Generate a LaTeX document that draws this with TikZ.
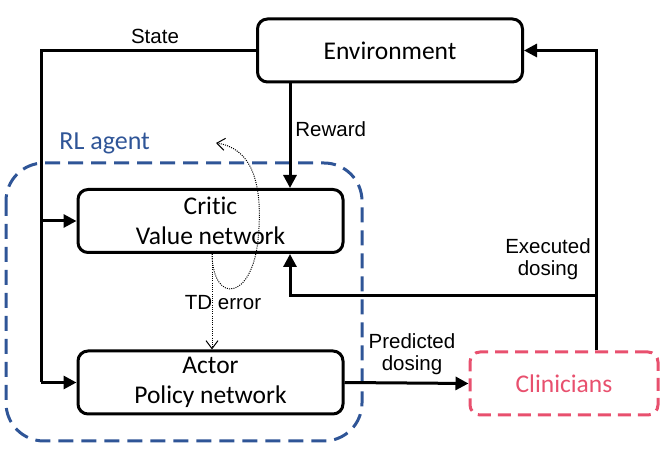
\documentclass[tikz,border=0pt]{standalone}
\usepackage{fontspec}
\setmainfont[Ligatures={NoCommon}]{Carlito}
\newfontfamily\arialf{Liberation Sans}
\usetikzlibrary{arrows.meta}
\definecolor{agentblue}{RGB}{47,85,151}
\definecolor{clinpink}{RGB}{232,80,110}
\tikzset{
  box/.style={draw, line width=1.5pt, rounded corners=5pt, minimum width=132.5pt, minimum height=31.5pt, align=center, font=\fontsize{12.75pt}{15pt}\selectfont, inner sep=0pt},
  conn/.style={line width=1.5pt},
  arr/.style={conn, -{Triangle[length=6.5pt,width=6.5pt]}},
  lbl/.style={font=\arialf\fontsize{10.25pt}{11.2pt}\selectfont, align=center, inner sep=0pt},
  dotarr/.style={line width=0.5pt, dash pattern=on 0.5pt off 0.6pt, -{Straight Barb[length=4pt,width=6pt,line width=0.5pt]}}
}
\begin{document}
\begin{tikzpicture}[x=0.5pt,y=-0.5pt]
\useasboundingbox (0,0) rectangle (665,459);
% agent frame
\draw[agentblue, line width=1.5pt, dash pattern=on 7.5pt off 4pt, rounded corners=19pt] (6,163) rectangle (362,441);
\node[font=\fontsize{13pt}{15pt}\selectfont, text=agentblue, anchor=west, inner sep=0pt] (agentlbl) at (59,143) {RL agent};
% nodes
\node[box] (env) at (390,50.5) {Environment};
\node[box] (critic) at (210.5,221) {Critic\\Value network};
\node[box] (actor) at (210.5,382.5) {Actor\\Policy network};
\node[box, draw=clinpink, text=clinpink, minimum width=94pt, dash pattern=on 6.5pt off 3.5pt] (clin) at (564,383.5) {Clinicians};
% coordinates
\coordinate (lx) at (41,0);
\coordinate (rx) at (290,0);
\coordinate (ex) at (596,0);
\coordinate (ey) at (0,296);
% state
\draw[conn] (env.west) -- (env.west -| lx) -- (actor.west -| lx);
\draw[arr] (critic.west -| lx) -- (critic.west);
\draw[arr] (actor.west -| lx) -- (actor.west);
\node[lbl] (statelbl) at (155,36) {State};
% reward
\draw[arr] (env.south -| rx) -- (critic.north -| rx);
\node[lbl, anchor=west] (rewardlbl) at (295,129) {Reward};
% executed dosing
\draw[arr] (clin.north -| ex) -- (env.east -| ex) -- (env.east);
\draw[arr] (ex |- ey) -- (rx |- ey) -- (critic.south -| rx);
\node[lbl] (execlbl) at (548,259) {Executed\\dosing};
% predicted dosing
\draw[arr] (actor.east) -- (clin.west);
\node[lbl] (predlbl) at (412,354) {Predicted\\dosing};
% TD error
\coordinate (tdx) at (212,0);
\draw[dotarr] (critic.south -| tdx) -- (actor.north -| tdx);
\node[lbl] (tdlbl) at (223,303) {TD error};
\draw[dotarr] (critic.south -| tdx) .. controls (213,305) and (252,300) .. (258,240) .. controls (264,180) and (250,148) .. (216,143);
\end{tikzpicture}
\end{document}
